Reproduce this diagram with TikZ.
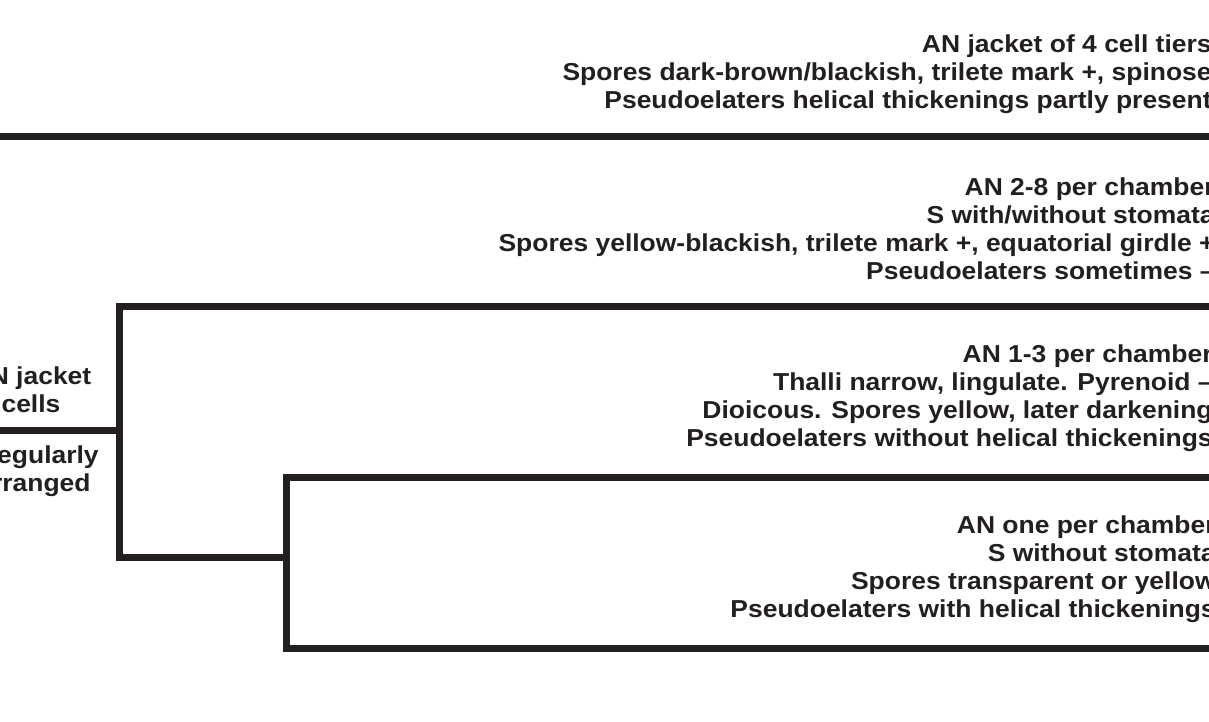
\documentclass[tikz,border=0pt]{standalone}
\usepackage{fontspec}
\newfontfamily\cladefont[FakeStretch=1.08]{Liberation Sans Bold}
\usetikzlibrary{positioning}
\definecolor{inkblack}{HTML}{231F20}

\begin{document}
\begin{tikzpicture}[
    branch/.style={
        draw=inkblack,
        line width=0.14cm,
        line join=miter
    },
    trait/.style={
        text=inkblack,
        inner sep=0pt,
        align=right,
        anchor=north east,
        font=\cladefont\fontsize{13.94pt}{16.1pt}\selectfont
    },
    split/.style={
        trait,
        align=center
    }
]
    \clip (0,0) rectangle (24.18,-14.44);

    % Tree points
    \coordinate (top0) at (-1,-2.74);
    \coordinate (top1) at (25,-2.74);
    \coordinate (root) at (-1,-8.62);
    \coordinate (n1) at (2.38,-8.62);
    \coordinate (n2) at (5.72,-11.16);
    \coordinate (tipB) at (25,-6.14);
    \coordinate (tipC) at (25,-9.56);
    \coordinate (tipD) at (25,-12.96);
    \coordinate (lab) at (0.62,-8.62);

    % Characters of each branch
    \node[trait] (charA) at (24.24,-0.68) {AN jacket of 4 cell tiers\\
        Spores dark-brown/blackish, trilete mark +, spinose\\
        Pseudoelaters helical thickenings partly present};
    \node[trait] (charB) at (24.30,-3.54) {AN 2-8 per chamber\\
        S with/without stomata\\
        Spores yellow-blackish, trilete mark +, equatorial girdle +\\
        Pseudoelaters sometimes –};
    \node[trait] (charC) at (24.26,-6.88) {AN 1-3 per chamber\\
        Thalli narrow, lingulate. Pyrenoid –\\
        Dioicous. Spores yellow, later darkening\\
        Pseudoelaters without helical thickenings};
    \node[trait] (charD) at (24.32,-10.30) {AN one per chamber\\
        S without stomata\\
        Spores transparent or yellow\\
        Pseudoelaters with helical thickenings};

    % Root label, split by the branch
    \node[split, anchor=south, above=0.36cm of lab] (jacket) {AN jacket\\cells};
    \node[split, anchor=north, below=0.28cm of lab, xshift=0.06cm] (arranged) {irregularly\\arranged};

    % Branches
    \draw[branch] (top0) -- (top1);
    \draw[branch] (root) -- (n1);
    \draw[branch] (tipB) -| (n1) |- (n2);
    \draw[branch] (tipC) -| (n2) |- (tipD);

\end{tikzpicture}
\end{document}
